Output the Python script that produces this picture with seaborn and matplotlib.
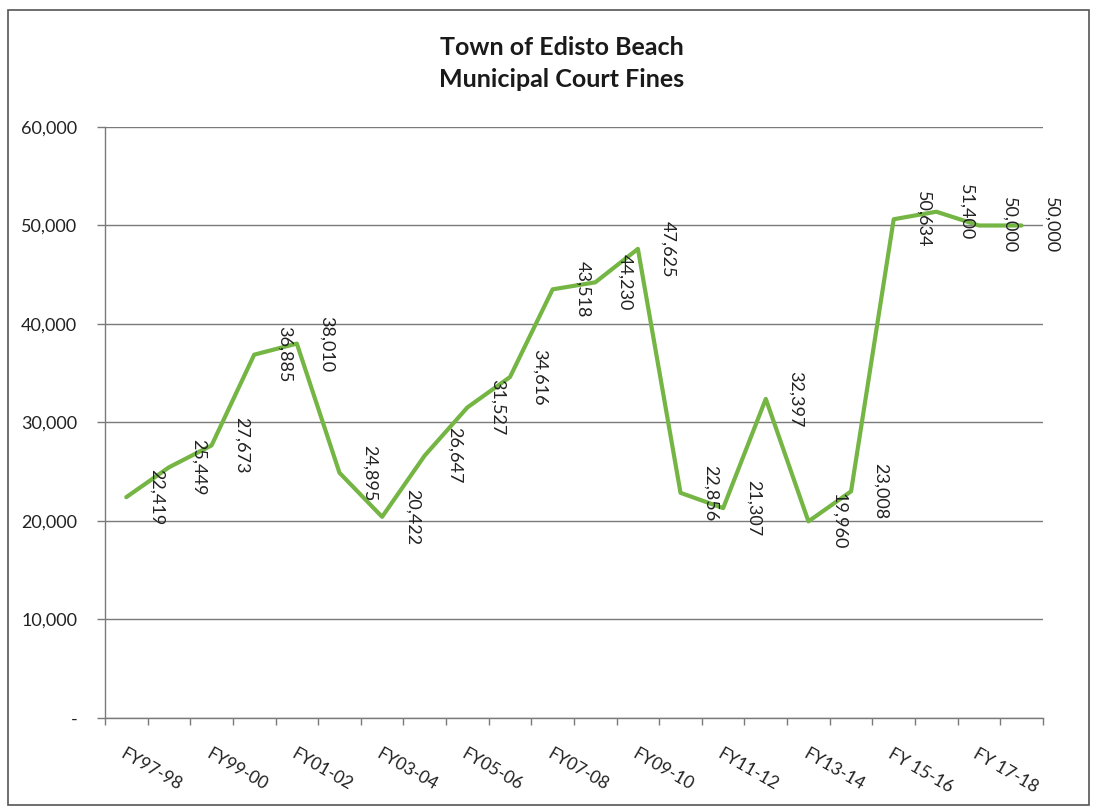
import numpy as np
import pandas as pd
import matplotlib
matplotlib.use("Agg")
import matplotlib.pyplot as plt
import seaborn as sns
from matplotlib.patches import Rectangle

# Fiscal years (every category) and the labels shown on the axis
years = ["FY97-98", "FY98-99", "FY99-00", "FY00-01", "FY01-02", "FY02-03",
         "FY03-04", "FY04-05", "FY05-06", "FY06-07", "FY07-08", "FY08-09",
         "FY09-10", "FY10-11", "FY11-12", "FY12-13", "FY13-14", "FY14-15",
         "FY 15-16", "FY 16-17", "FY 17-18", "FY 18-19"]
fines = [22419, 25449, 27673, 36885, 38010, 24895, 20422, 26647, 31527,
         34616, 43518, 44230, 47625, 22856, 21307, 32397, 19960, 23008,
         50634, 51400, 50000, 50000]
shown_labels = ["FY97-98", "FY99-00", "FY01-02", "FY03-04", "FY05-06",
                "FY07-08", "FY09-10", "FY11-12", "FY13-14", "FY 15-16",
                "FY 17-18"]
y_ticks = [0, 10000, 20000, 30000, 40000, 50000, 60000]
y_tick_labels = ["-", "10,000", "20,000", "30,000", "40,000", "50,000", "60,000"]

df = pd.DataFrame({"idx": np.arange(len(years)), "year": years, "fines": fines})

sns.set_style("white")
plt.rcParams["font.family"] = ["Lato", "DejaVu Sans"]

fig = plt.figure(figsize=(10.97, 8.11), dpi=100)
ax = fig.add_axes([0.0957, 0.1147, 0.855, 0.7287])

green = "#74B544"
sns.lineplot(data=df, x="idx", y="fines", ax=ax, color=green, linewidth=3)

# data labels, rotated, just right of each point
for i, v in zip(df["idx"], df["fines"]):
    ax.annotate(f"{v:,}", (i, v), xytext=(30, 0), textcoords="offset pixels",
                rotation=-90, ha="center", va="center", fontsize=13,
                color="#222222")

ax.set_xlim(-0.5, len(years) - 0.5)
ax.set_ylim(0, 60000)
ax.set_yticks(y_ticks)
ax.set_yticklabels(y_tick_labels, fontsize=13, color="#222222")
ax.yaxis.grid(True, color="#7a7a7a", linewidth=1)
ax.tick_params(axis="y", which="major", length=6, width=1, color="#7a7a7a",
               direction="out", left=True, pad=14)

# x: labels on every other category, tick marks at category boundaries
major = [years.index(l) for l in shown_labels]
ax.set_xticks(major)
ax.set_xticklabels(shown_labels, rotation=-30, ha="left", va="top",
                   rotation_mode="anchor", fontsize=12.5, color="#222222")
ax.set_xticks(np.arange(-0.5, len(years), 1), minor=True)
ax.tick_params(axis="x", which="major", length=0, pad=20)
ax.tick_params(axis="x", which="minor", length=5, width=1, color="#7a7a7a",
               direction="out", bottom=True)

for s in ["top", "right"]:
    ax.spines[s].set_visible(False)
for s in ["left", "bottom"]:
    ax.spines[s].set_color("#7a7a7a")
    ax.spines[s].set_linewidth(1)

ax.set_xlabel("")
ax.set_ylabel("")

fig.text(0.512, 0.922, "Town of Edisto Beach\nMunicipal Court Fines",
         ha="center", va="center", fontsize=18, fontweight="bold",
         linespacing=1.5, color="#1a1a1a")

# chart-area border
fig.patches.append(Rectangle((0.007, 0.008), 0.986, 0.98,
                             transform=fig.transFigure, fill=False,
                             edgecolor="#555555", linewidth=1.2))

fig.savefig("out.png", dpi=100)
